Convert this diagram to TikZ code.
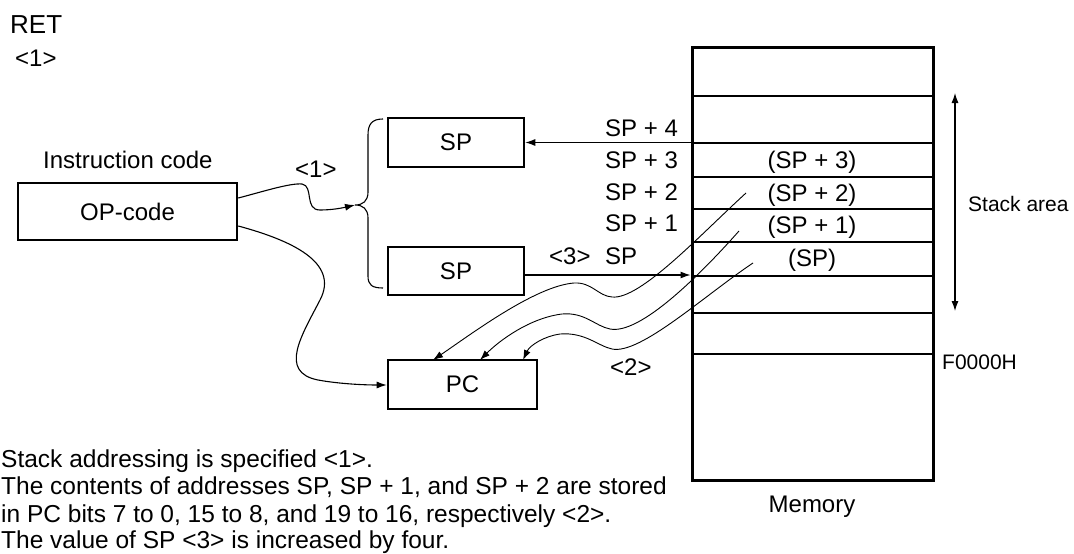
\documentclass[tikz,border=0pt]{standalone}
\usepackage{fontspec}
\setmainfont{Liberation Sans}
\usetikzlibrary{arrows.meta}
\begin{document}
\begin{tikzpicture}[x=1pt,y=-1pt,
  box/.style={draw,line width=2.6pt,inner sep=0pt,font=\fontsize{24}{28}\selectfont},
  lbl/.style={font=\fontsize{24}{28}\selectfont,inner sep=0pt},
  sml/.style={font=\fontsize{21}{25}\selectfont,inner sep=0pt},
  btxt/.style={font=\fontsize{24.5}{27.2}\selectfont,inner sep=0pt,anchor=base west},
  arr/.style={line width=1.1pt,-{Latex[length=10pt,width=7pt]}},
  wav/.style={line width=0.9pt,-{Latex[length=10pt,width=7pt]}},
  row/.style={line width=1.8pt},
  thinrow/.style={line width=1.4pt}]
\useasboundingbox (0,0) rectangle (1074,554);

% title
\node[lbl,font=\fontsize{26}{30}\selectfont,anchor=base west] (ret) at (10,34) {RET};
\node[lbl,anchor=base west] (one) at (15,66) {<1>};

% instruction code
\node[lbl,anchor=base west] (ic) at (43,168) {Instruction code};
\node[box,minimum width=219pt,minimum height=57pt] (op) at (127.5,211.5) {OP-code};

% SP boxes
\node[box,minimum width=136pt,minimum height=49pt] (spt) at (456,142.5) {SP};
\node[box,minimum width=136pt,minimum height=48pt] (spb) at (456,271) {SP};

% PC box
\node[box,minimum width=149pt,minimum height=49pt] (pc) at (462.5,384.5) {PC};

% memory
\node[draw,line width=3pt,minimum width=241pt,minimum height=433pt,inner sep=0pt] (mem) at (812.5,263.5) {};
\draw[row] (692,96) -- (933,96);
\draw[thinrow] (692,143) -- (933,143);
\draw[row] (692,177) -- (933,177);
\draw[thinrow] (692,209) -- (933,209);
\draw[row] (692,242) -- (933,242);
\draw[row] (692,276) -- (933,276);
\draw[row] (692,313) -- (933,313);
\draw[row] (692,354) -- (933,354);

\node[lbl,anchor=base] (m3) at (812,168.5) {(SP + 3)};
\node[lbl,anchor=base] (m2) at (812,201.5) {(SP + 2)};
\node[lbl,anchor=base] (m1) at (812,233.5) {(SP + 1)};
\node[lbl,anchor=base] (m0) at (812,266.5) {(SP)};
\node[lbl,anchor=base] (memlbl) at (812,512) {Memory};

% address labels
\node[lbl,anchor=base west] (a4) at (605,136.5) {SP + 4};
\node[lbl,anchor=base west] (a3) at (605,168.5) {SP + 3};
\node[lbl,anchor=base west] (a2) at (605,200.5) {SP + 2};
\node[lbl,anchor=base west] (a1) at (605,231.5) {SP + 1};
\node[lbl,anchor=base west] (a0) at (605,264.5) {SP};
\node[lbl,anchor=base west] (l3) at (549,264.5) {<3>};
\node[lbl,anchor=base west] (l1) at (295,177) {<1>};
\node[lbl,anchor=base west] (l2) at (610,375) {<2>};

% stack area
\coordinate (sa1) at (955,93);
\coordinate (sa2) at (955,311);
\draw[line width=1.1pt,{Latex[length=10pt,width=7pt]}-{Latex[length=10pt,width=7pt]}] (sa1) -- (sa2);
\node[sml,anchor=base west] (sal) at (968,211.5) {Stack area};
\node[sml,anchor=base west] (f0) at (942,369.5) {F0000H};

% arrows between SP and memory
\draw[arr] (spt.east -| mem.west) -- (spt.east);
\draw[arr] ([yshift=-4pt]spb.east) -- ([yshift=-4pt]spb.east -| mem.west);

% brace
\coordinate (bt) at (355,205);
\draw[line width=1.1pt] (383,119) .. controls (372,119) and (368,124) .. (368,135)
  -- (368,192) .. controls (368,201) and (363,205) .. (bt)
  .. controls (363,205) and (368,209) .. (368,218)
  -- (368,276) .. controls (368,285) and (372,288) .. (383,288);

% OP-code to brace
\draw[arr] (op.east |- 0,198) .. controls (265,191) and (290,183) .. (302,184)
  .. controls (314,186) and (304,210) .. (320,210)
  .. controls (332,210) and (342,208) .. (bt);

% OP-code to PC
\draw[arr] (op.east |- 0,226) .. controls (290,240) and (340,262) .. (320,300)
  .. controls (302,335) and (278,372) .. (318,380)
  .. controls (340,384) and (365,385) .. (pc.west |- 0,385);

% memory to PC waves
\coordinate (s2) at (746,193);
\coordinate (s1) at (739,231);
\coordinate (s0) at (753,263);
\coordinate (p2) at (433,360);
\coordinate (p1) at (480,360);
\coordinate (p0) at (523,360);
\draw[wav] (s2) .. controls (700,235) and (640,300) .. (612,297)
  .. controls (598,296) and (592,282) .. (574,283)
  .. controls (535,286) and (470,335) .. (p2);
\draw[wav] (s1) .. controls (700,275) and (640,335) .. (610,329)
  .. controls (595,326) and (585,312) .. (562,314)
  .. controls (530,318) and (500,340) .. (p1);
\draw[wav] (s0) .. controls (705,295) and (640,355) .. (612,349)
  .. controls (598,346) and (585,332) .. (560,334)
  .. controls (545,336) and (530,345) .. (p0);

% bottom text
\node[btxt] (t1) at (1,467) {Stack addressing is specified <1>.};
\node[btxt] (t2) at (1,494.5) {The contents of addresses SP, SP + 1, and SP + 2 are stored};
\node[btxt] (t3) at (1,522) {in PC bits 7 to 0, 15 to 8, and 19 to 16, respectively <2>.};
\node[btxt] (t4) at (1,548.5) {The value of SP <3> is increased by four.};
\end{tikzpicture}
\end{document}
